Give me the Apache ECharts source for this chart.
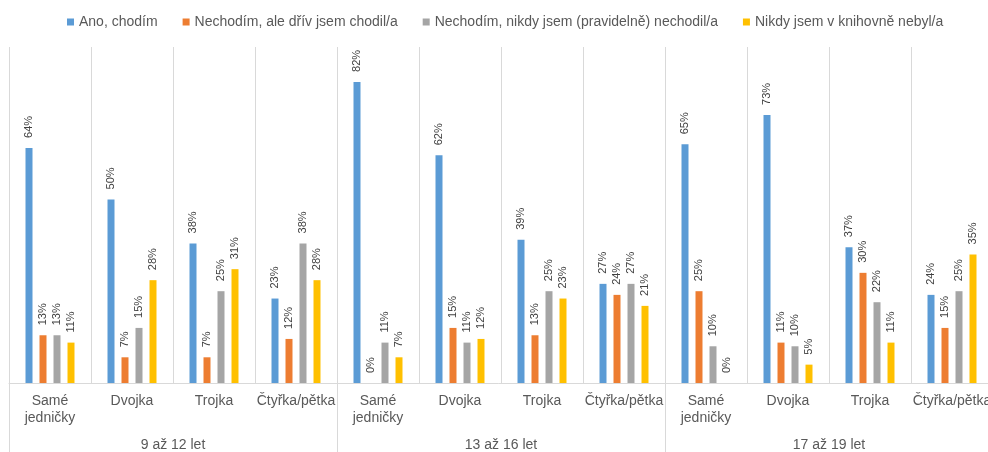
<!DOCTYPE html>
<html>
<head>
<meta charset="utf-8">
<script src="https://cdn.jsdelivr.net/npm/echarts@6/dist/echarts.min.js"></script>
<style>
html,body{margin:0;padding:0;background:#fff;}
#chart{width:988px;height:452px;}
</style>
</head>
<body>
<div id="chart"></div>
<script>
var categories=['Samé\njedničky','Dvojka','Trojka','Čtyřka/pětka',
	'Samé\njedničky','Dvojka','Trojka','Čtyřka/pětka',
	'Samé\njedničky','Dvojka','Trojka','Čtyřka/pětka'];
var groups=['9 až 12 let','13 až 16 let','17 až 19 let'];
var seriesNames=['Ano, chodím','Nechodím, ale dřív jsem chodil/a','Nechodím, nikdy jsem (pravidelně) nechodil/a','Nikdy jsem v knihovně nebyl/a'];
var chodim=[64,50,38,23, 82,62,39,27, 65,73,37,24];
var drivChodil=[13,7,7,12, 0,15,13,24, 25,11,30,15];
var nikdyNechodil=[13,15,25,38, 11,11,25,27, 10,10,22,25];
var nikdyNebyl=[11,28,31,28, 7,12,23,21, 0,5,11,35];
var chartColor=['#5b9bd5','#ed7d31','#a5a5a5','#ffc000'];

var font="'Liberation Sans', Arial, sans-serif";
var chart=echarts.init(document.getElementById('chart'));

var makeSeries=function(name,data){
	return {
		name:name,
		type:'bar',
		barWidth:7,
		barGap:'100%',
		data:data,
		label:{
			show:true,
			position:'top',
			rotate:90,
			align:'left',
			verticalAlign:'middle',
			distance:10,
			formatter:'{c}%',
			color:'#404040',
			fontSize:11,
			fontFamily:font
		}
	};
};

var option={
	animation:false,
	color:chartColor,
	textStyle:{fontFamily:font},
	legend:{
		data:seriesNames,
		left:62,
		top:10,
		icon:'rect',
		itemWidth:7,
		itemHeight:7,
		itemGap:25,
		textStyle:{color:'#595959',fontSize:14,fontFamily:font}
	},
	grid:{left:9,top:47,width:984,height:336,outerBoundsMode:'none',containLabel:false},
	xAxis:[
		{
			type:'category',
			data:categories,
			axisLine:{lineStyle:{color:'#d9d9d9'}},
			axisTick:{show:false},
			splitLine:{show:true,lineStyle:{color:'#d9d9d9'}},
			axisLabel:{interval:0,margin:10,color:'#595959',fontSize:14,lineHeight:17,fontFamily:font}
		},
		{
			type:'category',
			data:groups,
			position:'bottom',
			axisLine:{show:false},
			axisTick:{show:true,length:70,lineStyle:{color:'#d9d9d9'}},
			splitLine:{show:false},
			axisLabel:{interval:0,margin:55,color:'#595959',fontSize:14,fontFamily:font}
		}
	],
	yAxis:{
		type:'value',
		min:0,
		max:91.5,
		show:false,
		splitLine:{show:false}
	},
	series:[
		makeSeries(seriesNames[0],chodim),
		makeSeries(seriesNames[1],drivChodil),
		makeSeries(seriesNames[2],nikdyNechodil),
		makeSeries(seriesNames[3],nikdyNebyl)
	]
};
chart.setOption(option);
</script>
</body>
</html>
